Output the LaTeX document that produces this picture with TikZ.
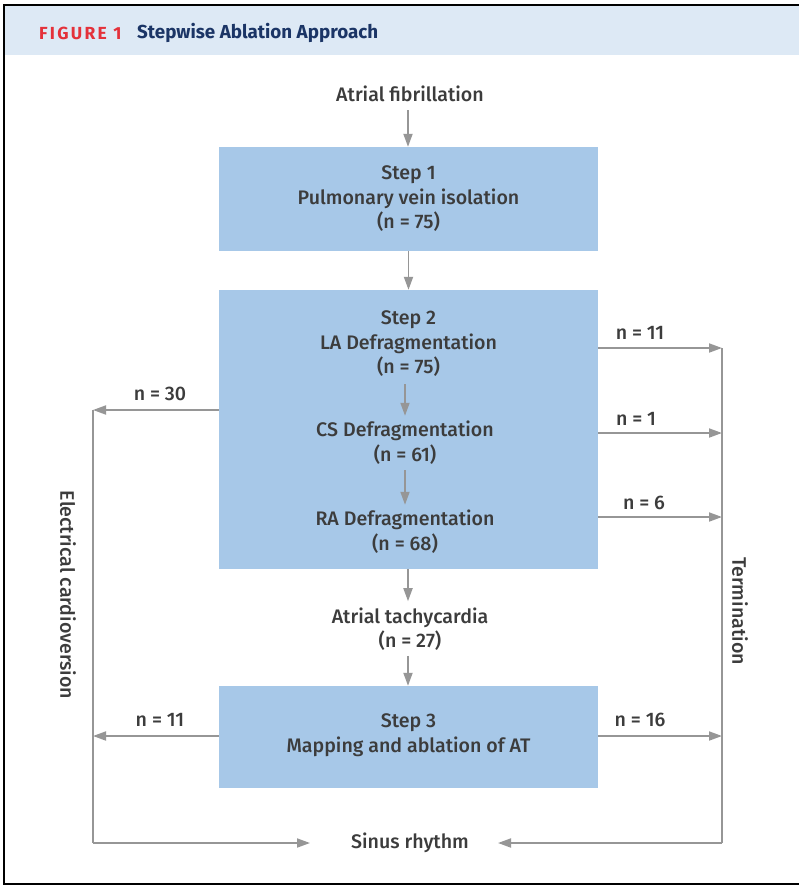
\documentclass[tikz,border=0pt]{standalone}
\usepackage{fontspec}
\setmainfont{Fira Sans}[UprightFont=* Medium, BoldFont=* Bold]
\usetikzlibrary{arrows.meta}
\definecolor{boxblue}{HTML}{A7C8E8}
\definecolor{hdrblue}{HTML}{DDE9F5}
\definecolor{arrgray}{HTML}{969696}
\definecolor{txtgray}{HTML}{3C3C3C}
\definecolor{figred}{HTML}{E4313A}
\definecolor{navy}{HTML}{1B3566}
\tikzset{
  stepbox/.style={fill=boxblue, draw=none, minimum width=379pt, inner sep=0pt},
  lbl/.style={text=txtgray, font=\fontsize{19.6}{24.5}\selectfont, align=center, inner sep=5pt},
  arr/.style={draw=arrgray, line width=1.8pt, -{Triangle[length=13pt,width=9pt]}},
  ln/.style={draw=arrgray, line width=1.8pt},
}
\begin{document}
\begin{tikzpicture}[x=1pt,y=-1pt]
\useasboundingbox (0,0) rectangle (799,886);
\fill[white] (0,0) rectangle (799,886);
% header
\fill[hdrblue] (4,5) rectangle (799,55);
\draw[black, line width=2.5pt] (799,5) -- (4,5) -- (4,884) -- (799,884);
\node[anchor=west, inner sep=0pt, text=figred, font=\fontsize{17.5}{18}\selectfont\bfseries\addfontfeatures{LetterSpace=13}] (figlbl) at (39,33) {FIGURE 1};
\node[anchor=west, inner sep=0pt, text=navy, font=\fontsize{18.8}{20}\selectfont\bfseries] (figttl) at (137,33) {Stepwise Ablation Approach};

% boxes
\node[stepbox, minimum height=104pt] (b1) at (408.5,199) {};
\node[stepbox, minimum height=279pt] (b2) at (408.5,429.5) {};
\node[stepbox, minimum height=102pt] (b3) at (408.5,737) {};

% texts
\node[lbl] (af) at (410,94) {Atrial fibrillation};
\node[lbl] (t1) at (408.5,199) {Step 1\\Pulmonary vein isolation\\(n = 75)};
\node[lbl] (t2a) at (408.5,344) {Step 2\\LA Defragmentation\\(n = 75)};
\node[lbl] (t2b) at (405,442.5) {CS Defragmentation\\(n = 61)};
\node[lbl] (t2c) at (405,531.5) {RA Defragmentation\\(n = 68)};
\node[lbl] (at) at (410,629) {Atrial tachycardia\\(n = 27)};
\node[lbl] (t3) at (408.5,735) {Step 3\\Mapping and ablation of AT};
\node[lbl] (sr) at (410,843) {Sinus rhythm};

% vertical flow arrows
\draw[arr] (af.south) ++(-2,3) coordinate (af1) -- (af1 |- b1.north) coordinate (af2);
\draw[arr] (b1.south) -- (b2.north);
\draw[arr] (t2a.south -| t2b) ++(0,2) coordinate (c1) -- (c1 |- t2b.north);
\draw[arr] (t2b.south) ++(0,1) coordinate (c2) -- (c2 |- t2c.north);
\draw[arr] (b2.south -| at) ++(-2,0) coordinate (c3) -- ++(0,32) coordinate (c4);
\draw[arr] (at.south) ++(-2,0) coordinate (c5) -- (c5 |- b3.north);

% left side
\coordinate (L1) at (93,410);
\coordinate (L2) at (93,736);
\coordinate (L3) at (93,843);
\coordinate (Lend) at (310,843);
\draw[arr] (b2.west |- L1) -- (L1);
\draw[arr] (b3.west |- L2) -- (L2);
\draw[ln] (L1) -- (L3);
\draw[arr] (L3) -- (Lend);
\node[lbl] (n30) at (160,394) {n = 30};
\node[lbl] (n11l) at (160,720) {n = 11};
\node[lbl, rotate=-90] (ec) at (68,595) {Electrical cardioversion};

% right side
\coordinate (R1) at (722,348);
\coordinate (R2) at (722,433);
\coordinate (R3) at (722,517);
\coordinate (R4) at (722,736);
\coordinate (R5) at (722,843);
\coordinate (Rend) at (498,843);
\draw[arr] (b2.east |- R1) -- (R1);
\draw[arr] (b2.east |- R2) -- (R2);
\draw[arr] (b2.east |- R3) -- (R3);
\draw[arr] (b3.east |- R4) -- (R4);
\draw[ln] (R1) -- (R5);
\draw[arr] (R5) -- (Rend);
\node[lbl] (n11r) at (640,333) {n = 11};
\node[lbl] (n1) at (636,419) {n = 1};
\node[lbl] (n6) at (644,503) {n = 6};
\node[lbl] (n16) at (640,720) {n = 16};
\node[lbl, rotate=-90] (term) at (740,611) {Termination};
\end{tikzpicture}
\end{document}
